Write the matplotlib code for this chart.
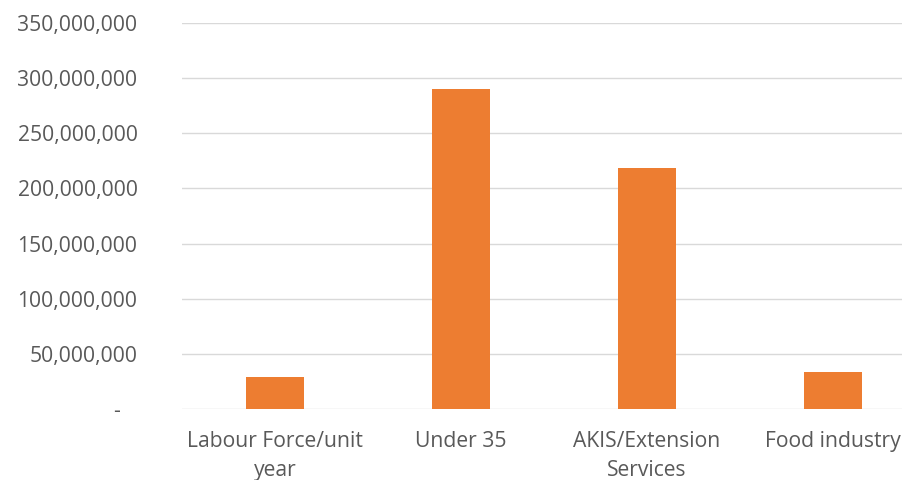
import matplotlib.pyplot as plt
from matplotlib.ticker import FuncFormatter

plt.rcParams['font.family'] = ['Open Sans', 'DejaVu Sans']

categories = ['Labour Force/unit\nyear', 'Under 35', 'AKIS/Extension\nServices', 'Food industry']
values = [29_000_000, 290_500_000, 218_300_000, 33_500_000]
yticks = [0, 50_000_000, 100_000_000, 150_000_000, 200_000_000,
          250_000_000, 300_000_000, 350_000_000]

fig = plt.figure(figsize=(9.03, 4.80), dpi=100)
# axes run a little past the right edge, so the last slot is clipped
ax = fig.add_axes([182 / 903, 1 - 409 / 480, 744 / 903, 386 / 480])

x = range(len(categories))
ax.bar(x, values, width=0.31, color='#ED7D31', zorder=3)

ax.set_xlim(-0.5, len(categories) - 0.5)
ax.set_ylim(0, 350_000_000)
ax.set_yticks(yticks)

def fmt(v, pos):
    if v == 0:
        return '-   '
    return f'{v:,.0f}'

ax.yaxis.set_major_formatter(FuncFormatter(fmt))
ax.set_xticks(list(x))
ax.set_xticklabels(categories, linespacing=1.5)

ax.grid(axis='y', color='#D9D9D9', linewidth=1.0, zorder=0)
for s in ax.spines.values():
    s.set_visible(False)
ax.tick_params(axis='both', length=0, labelsize=15.2, colors='#595959')
ax.tick_params(axis='y', pad=32)
ax.tick_params(axis='x', pad=16)

fig.savefig('out.png', dpi=100)
